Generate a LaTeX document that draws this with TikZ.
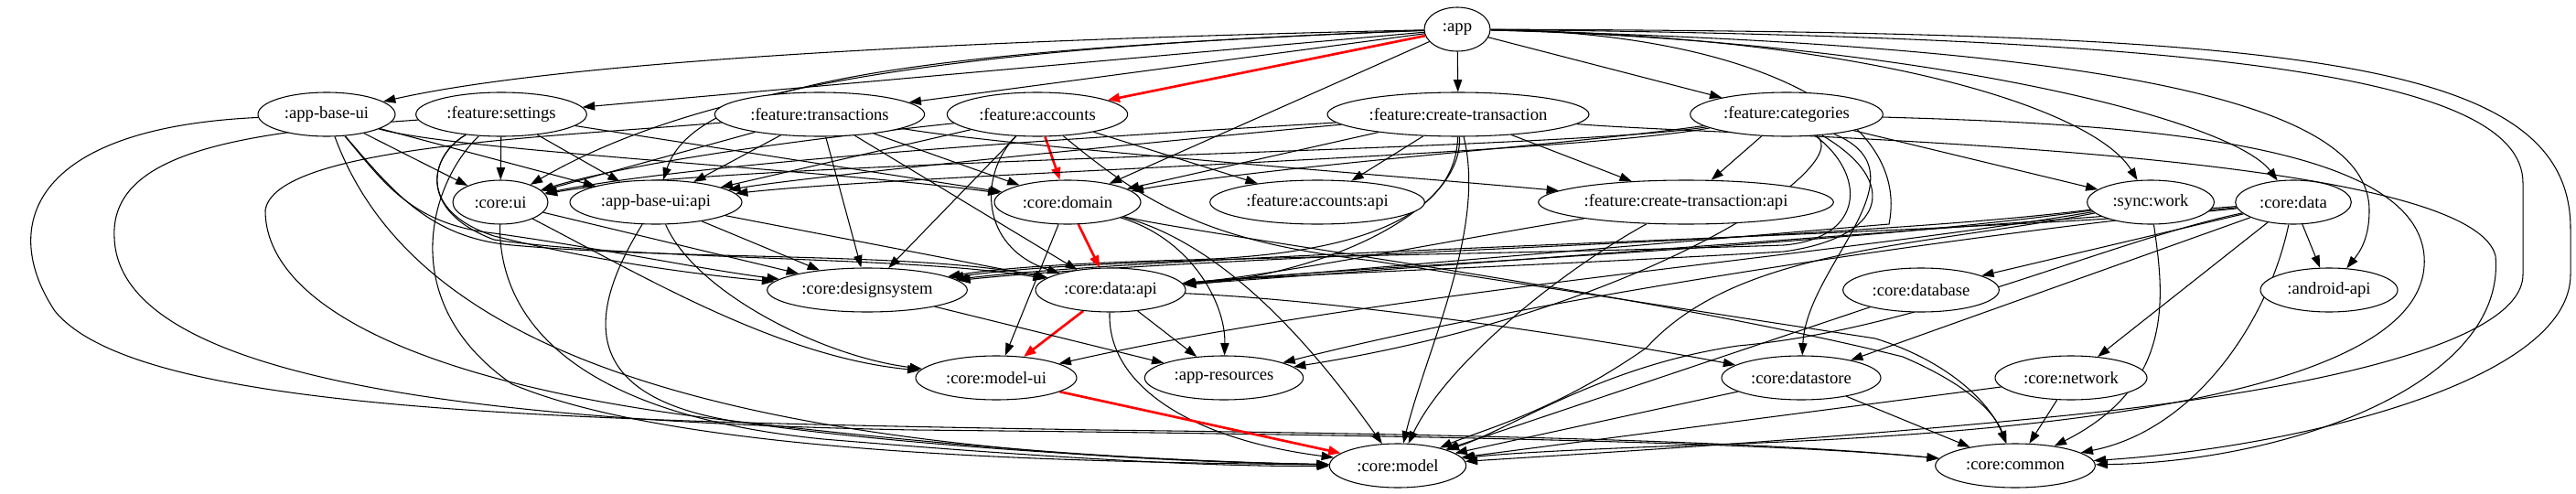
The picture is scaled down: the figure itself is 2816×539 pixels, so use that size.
\documentclass[tikz,border=0pt]{standalone}
\usepackage{fontspec}
\setmainfont{Liberation Serif}
\usetikzlibrary{arrows.meta,shapes.geometric}
\pgfdeclarelayer{bg}
\pgfsetlayers{bg,main}
\begin{document}
\begin{tikzpicture}[x=0.75pt,y=-0.75pt,
  mod/.style={ellipse, draw, line width=0.8pt, fill=white, inner sep=0pt, minimum height=36pt, font=\fontsize{14pt}{16pt}\selectfont},
  e/.style={line width=0.8pt, -{Triangle[length=10pt,width=7pt]}},
  crit/.style={red, line width=2pt, -{Triangle[length=10pt,width=7.5pt]}}]
\useasboundingbox (0,0) rectangle (2816,539);
% nodes
\node[mod, minimum width=54pt]    (app)          at (1593,32)  {:app};
\node[mod, minimum width=112.5pt] (appbaseui)    at (357,125)  {:app-base-ui};
\node[mod, minimum width=140pt]   (settings)     at (548,125)  {:feature:settings};
\node[mod, minimum width=172pt]   (transactions) at (896,125)  {:feature:transactions};
\node[mod, minimum width=148pt]   (accounts)     at (1134,125) {:feature:accounts};
\node[mod, minimum width=214.5pt] (createtx)     at (1594,125) {:feature:create-transaction};
\node[mod, minimum width=158pt]   (categories)   at (1953,125) {:feature:categories};
\node[mod, minimum width=78pt]    (coreui)       at (547,221)  {:core:ui};
\node[mod, minimum width=141pt]   (abuiapi)      at (717,221)  {:app-base-ui:api};
\node[mod, minimum width=120pt]   (domain)       at (1167,221) {:core:domain};
\node[mod, minimum width=176pt]   (accountsapi)  at (1440,221) {:feature:accounts:api};
\node[mod, minimum width=242pt]   (createtxapi)  at (1843,221) {:feature:create-transaction:api};
\node[mod, minimum width=104pt]   (syncwork)     at (2351,221) {:sync:work};
\node[mod, minimum width=95pt]    (coredata)     at (2507,221) {:core:data};
\node[mod, minimum width=164pt]   (designsystem) at (948,317)  {:core:designsystem};
\node[mod, minimum width=123pt]   (dataapi)      at (1214,317) {:core:data:api};
\node[mod, minimum width=128pt]   (database)     at (2100,317) {:core:database};
\node[mod, minimum width=112.5pt] (androidapi)   at (2546,317) {:android-api};
\node[mod, minimum width=132pt]   (modelui)      at (1089,413) {:core:model-ui};
\node[mod, minimum width=130pt]   (appresources) at (1338,413) {:app-resources};
\node[mod, minimum width=130.5pt] (datastore)    at (1969,413) {:core:datastore};
\node[mod, minimum width=124.5pt] (network)      at (2264,413) {:core:network};
\node[mod, minimum width=112pt]   (model)        at (1528,509) {:core:model};
\node[mod, minimum width=131pt]   (common)       at (2203,509) {:core:common};
\begin{pgfonlayer}{bg}
% app
\draw[e] (app) .. controls (1000,45) and (600,70) .. (appbaseui);
\draw[e] (app) -- (settings);
\draw[e] (app) -- (transactions);
\draw[crit] (app) -- (accounts);
\draw[e] (app) -- (createtx);
\draw[e] (app) -- (categories);
\draw[e] (app) .. controls (1100,50) and (780,85) .. (coreui);
\draw[e] (app) .. controls (1000,55) and (760,90) .. (abuiapi);
\draw[e] (app) -- (domain);
\draw[e] (app) .. controls (2050,40) and (2290,120) .. (syncwork);
\draw[e] (app) .. controls (2100,45) and (2440,130) .. (coredata);
\draw[e] (app) .. controls (2300,50) and (2590,110) .. (2590,230) .. controls (2590,260) and (2580,275) .. (androidapi);
\draw[e] (app) .. controls (1900,35) and (2090,120) .. (2065,245) -- (dataapi);
\draw[e] (app) .. controls (2400,40) and (2758,80) .. (2758,200) -- (2758,300) .. controls (2758,380) and (2500,430) .. (2250,455) .. controls (2000,480) and (1750,495) .. (model);
\draw[e] (app) .. controls (2500,35) and (2810,60) .. (2810,250) -- (2810,300) .. controls (2810,420) and (2500,490) .. (common);
% app-base-ui
\draw[e] (appbaseui) -- (coreui);
\draw[e] (appbaseui) -- (abuiapi);
\draw[e] (appbaseui) .. controls (500,165) and (900,185) .. (domain);
\draw[e] (appbaseui) .. controls (420,200) and (450,245) .. (540,255) .. controls (650,270) and (770,295) .. (designsystem);
\draw[e] (appbaseui) .. controls (430,210) and (470,260) .. (560,268) .. controls (750,285) and (1000,275) .. (dataapi);
\draw[e] (appbaseui) .. controls (440,350) and (700,495) .. (model);
\draw[e] (appbaseui) .. controls (30,140) and (0,250) .. (60,340) .. controls (150,450) and (600,460) .. (1200,470) .. controls (1700,476) and (1950,485) .. (common);
% settings
\draw[e] (settings) -- (coreui);
\draw[e] (settings) -- (abuiapi);
\draw[e] (settings) -- (domain);
\draw[e] (settings) .. controls (470,170) and (455,230) .. (540,258) .. controls (650,285) and (760,300) .. (designsystem);
\draw[e] (settings) .. controls (470,170) and (455,230) .. (540,262) .. controls (700,285) and (1000,280) .. (dataapi);
\draw[e] (settings) .. controls (470,200) and (430,330) .. (560,420) .. controls (750,500) and (1200,505) .. (model);
\draw[e] (settings) .. controls (250,145) and (120,170) .. (125,260) .. controls (130,400) and (450,460) .. (1000,470) .. controls (1600,476) and (1950,485) .. (common);
% transactions
\draw[e] (transactions) -- (coreui);
\draw[e] (transactions) -- (abuiapi);
\draw[e] (transactions) -- (domain);
\draw[e] (transactions) -- (designsystem);
\draw[e] (transactions) -- (dataapi);
\draw[e] (transactions) .. controls (1100,160) and (1500,190) .. (createtxapi);
\draw[e] (transactions) .. controls (600,150) and (300,160) .. (290,230) .. controls (290,330) and (450,420) .. (800,460) .. controls (1100,495) and (1300,505) .. (model);
% accounts
\draw[e] (accounts) .. controls (900,150) and (700,175) .. (coreui);
\draw[e] (accounts) -- (abuiapi);
\draw[crit] (accounts) -- (domain);
\draw[e] (accounts) -- (accountsapi);
\draw[e] (accounts) -- (designsystem);
\draw[e] (accounts) .. controls (1070,190) and (1070,270) .. (dataapi);
\draw[e] (accounts) .. controls (1260,230) and (1330,265) .. (1500,285) -- (2050,370) .. controls (2130,395) and (2175,440) .. (common);
% create-transaction
\draw[e] (createtx) .. controls (1400,138) and (800,170) .. (coreui);
\draw[e] (createtx) .. controls (1400,142) and (900,190) .. (abuiapi);
\draw[e] (createtx) -- (domain);
\draw[e] (createtx) -- (accountsapi);
\draw[e] (createtx) -- (createtxapi);
\draw[e] (createtx) .. controls (1592,230) and (1500,278) .. (1300,284) .. controls (1150,288) and (1080,295) .. (designsystem);
\draw[e] (createtx) .. controls (1600,230) and (1450,300) .. (dataapi);
\draw[e] (createtx) .. controls (1625,250) and (1560,380) .. (model);
\draw[e] (createtx) .. controls (1900,150) and (2700,160) .. (2728,280) .. controls (2740,420) and (2500,505) .. (common);
% categories
\draw[e] (categories) .. controls (1700,165) and (800,175) .. (coreui);
\draw[e] (categories) .. controls (1700,170) and (1000,190) .. (abuiapi);
\draw[e] (categories) .. controls (1700,160) and (1400,180) .. (domain);
\draw[e] (categories) -- (createtxapi);
\draw[e] (categories) -- (syncwork);
\draw[e] (categories) .. controls (2040,190) and (2040,260) .. (1950,268) .. controls (1600,280) and (1200,280) .. (designsystem);
\draw[e] (categories) .. controls (2080,200) and (2060,260) .. (1950,275) .. controls (1700,290) and (1400,300) .. (dataapi);
\draw[e] (categories) .. controls (2110,190) and (1975,290) .. (datastore);
\draw[e] (categories) .. controls (2030,180) and (1800,340) .. (appresources);
\draw[e] (categories) .. controls (2300,135) and (2640,150) .. (2650,280) .. controls (2660,420) and (2300,470) .. (1900,485) .. controls (1750,490) and (1650,495) .. (model);
% core:ui
\draw[e] (coreui) -- (designsystem);
\draw[e] (coreui) .. controls (700,300) and (850,390) .. (modelui);
\draw[e] (coreui) .. controls (545,330) and (600,450) .. (900,480) .. controls (1200,505) and (1350,510) .. (model);
% app-base-ui:api
\draw[e] (abuiapi) -- (designsystem);
\draw[e] (abuiapi) -- (dataapi);
\draw[e] (abuiapi) .. controls (760,320) and (900,390) .. (modelui);
\draw[e] (abuiapi) .. controls (650,330) and (620,430) .. (800,460) .. controls (1000,490) and (1300,505) .. (model);
% core:domain
\draw[crit] (domain) -- (dataapi);
\draw[e] (domain) -- (modelui);
\draw[e] (domain) .. controls (1300,260) and (1340,330) .. (appresources);
\draw[e] (domain) .. controls (1350,270) and (1450,400) .. (model);
\draw[e] (domain) .. controls (1300,255) and (1800,320) .. (2080,390) .. controls (2150,420) and (2180,450) .. (common);
% core:data:api
\draw[crit] (dataapi) -- (modelui);
\draw[e] (dataapi) -- (appresources);
\draw[e] (dataapi) .. controls (1210,420) and (1300,480) .. (model);
\draw[e] (dataapi) .. controls (1500,330) and (1800,380) .. (datastore);
% others
\draw[e] (designsystem) -- (appresources);
\draw[crit] (modelui) -- (model);
\draw[e] (createtxapi) .. controls (1600,260) and (1400,300) .. (dataapi);
\draw[e] (createtxapi) .. controls (1700,300) and (1580,400) .. (model);
% sync:work
\draw[e] (syncwork) .. controls (2000,270) and (1500,290) .. (dataapi);
\draw[e] (syncwork) .. controls (2000,265) and (1300,280) .. (designsystem);
\draw[e] (syncwork) .. controls (2000,280) and (1500,320) .. (modelui);
\draw[e] (syncwork) .. controls (2100,270) and (1900,270) .. (1800,380) .. controls (1700,450) and (1620,470) .. (model);
\draw[e] (syncwork) .. controls (2365,320) and (2380,420) .. (common);
% core:data
\draw[e] (coredata) -- (dataapi);
\draw[e] (coredata) -- (database);
\draw[e] (coredata) -- (datastore);
\draw[e] (coredata) -- (network);
\draw[e] (coredata) -- (androidapi);
\draw[e] (coredata) .. controls (2300,265) and (2100,360) .. (1900,378) .. controls (1750,400) and (1650,470) .. (model);
\draw[e] (coredata) .. controls (2480,350) and (2400,470) .. (common);
\draw[e] (coredata) .. controls (2200,250) and (1700,320) .. (appresources);
\draw[e] (coredata) .. controls (2200,255) and (1300,275) .. (designsystem);
% leaves
\draw[e] (database) -- (model);
\draw[e] (datastore) -- (model);
\draw[e] (datastore) -- (common);
\draw[e] (network) -- (model);
\draw[e] (network) -- (common);
\end{pgfonlayer}
\end{tikzpicture}
\end{document}
